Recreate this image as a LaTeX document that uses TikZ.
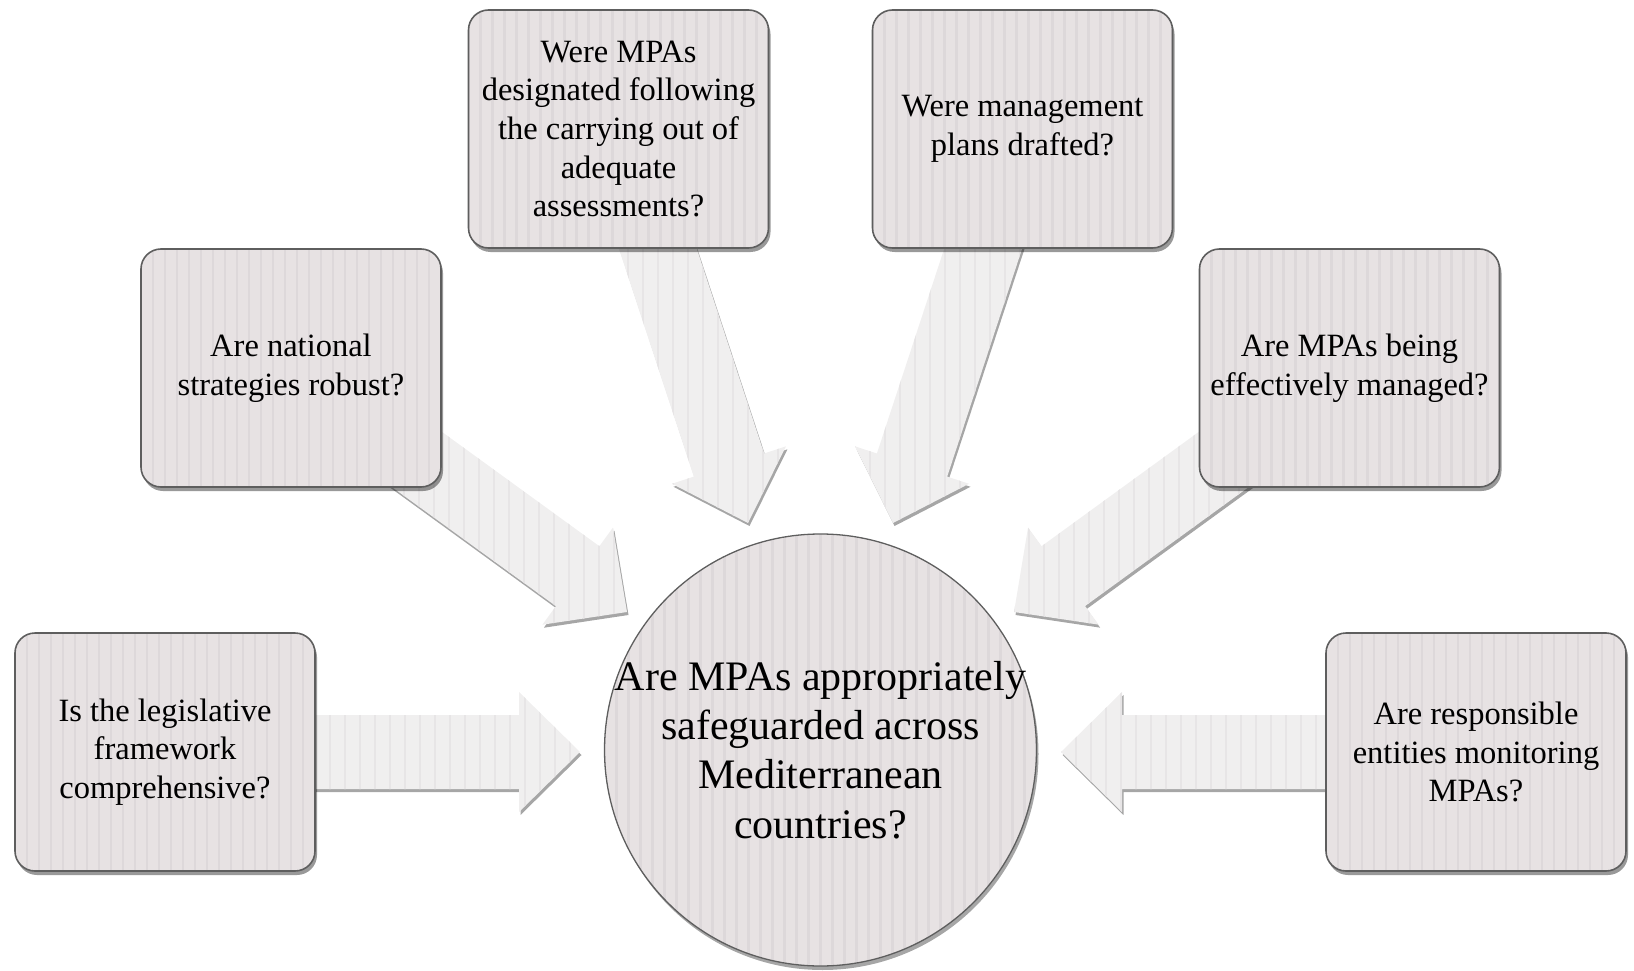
\documentclass[tikz,border=0pt]{standalone}
\usepackage{fontspec}
\setmainfont{Liberation Serif}
\usetikzlibrary{calc,shadows}
\pgfdeclarelayer{bg}
\pgfsetlayers{bg,main}
\definecolor{boxfill}{HTML}{E7E2E3}
\definecolor{boxstripe}{HTML}{DDD8DA}
\definecolor{boxline}{HTML}{5E5E5E}
\definecolor{arrfill}{HTML}{F0EFEF}
\definecolor{arrstripe}{HTML}{E7E5E6}
\newcommand\mystripes[3]{%
  \foreach \k in {0,...,40}{%
    \draw[#2, line width=#3] ([xshift=\k*#1]path picture bounding box.north west) -- ([xshift=\k*#1]path picture bounding box.south west);}}
\tikzset{
  qbox/.style={draw=boxline, line width=1.6pt, fill=boxfill, rounded corners=20pt,
    minimum width=300pt, minimum height=238pt, align=center, text=black, inner sep=0pt,
    font=\fontsize{32.5}{38.6}\selectfont,
    path picture={\mystripes{12pt}{boxstripe}{2.5pt}},
    drop shadow={shadow xshift=2pt, shadow yshift=-4pt, opacity=0.4, fill=black}},
  qcircle/.style={circle, draw=boxline, line width=1.3pt, fill=boxfill,
    minimum size=432pt, inner sep=0pt,
    path picture={\mystripes{12pt}{boxstripe}{2.5pt}},
    drop shadow={shadow xshift=2pt, shadow yshift=-4pt, opacity=0.35, fill=black}},
  qcirctext/.style={align=center, text=black, inner sep=0pt,
    font=\fontsize{42}{49.3}\selectfont},
  blockarr/.style={fill=arrfill,
    path picture={\mystripes{15pt}{arrstripe}{2pt}},
    drop shadow={shadow xshift=1.5pt, shadow yshift=-3pt, opacity=0.35, fill=black}}
}
\newcommand\blockarrow[2]{%
  \coordinate (#2-b) at ($(#2)!61pt!(#1.center)$);
  \path[blockarr] ($(#1.center)!37pt!90:(#2)$) -- ($(#2-b)!37pt!90:(#2)$) -- ($(#2-b)!60pt!90:(#2)$) -- (#2) -- ($(#2-b)!60pt!-90:(#2)$) -- ($(#2-b)!37pt!-90:(#2)$) -- ($(#1.center)!37pt!-90:(#2)$) -- cycle;}
\begin{document}
\begin{tikzpicture}[x=1pt,y=-1pt]
\useasboundingbox (0,0) rectangle (1634,971);
\node[qcircle] (c) at (820.5,750) {};
\node[qcirctext] (ct) at (c.center) {Are MPAs appropriately\\safeguarded across\\Mediterranean\\countries?};
\node[qbox] (b1) at (165,752) {Is the legislative\\framework\\comprehensive?};
\node[qbox] (b2) at (291,368) {Are national\\strategies robust?};
\node[qbox] (b3) at (618.5,129) {Were MPAs\\designated following\\the carrying out of\\adequate\\assessments?};
\node[qbox] (b4) at (1022.5,129) {Were management\\plans drafted?};
\node[qbox] (b5) at (1349.5,368) {Are MPAs being\\effectively managed?};
\node[qbox] (b6) at (1476,752) {Are responsible\\entities monitoring\\MPAs?};
\coordinate (t1) at (580,752);
\coordinate (t2) at (627,612);
\coordinate (t3) at (748,523);
\coordinate (t4) at (893,523);
\coordinate (t5) at (1014,612);
\coordinate (t6) at (1061,752);
\begin{pgfonlayer}{bg}
\blockarrow{b1}{t1}
\blockarrow{b2}{t2}
\blockarrow{b3}{t3}
\blockarrow{b4}{t4}
\blockarrow{b5}{t5}
\blockarrow{b6}{t6}
\end{pgfonlayer}
\end{tikzpicture}
\end{document}
